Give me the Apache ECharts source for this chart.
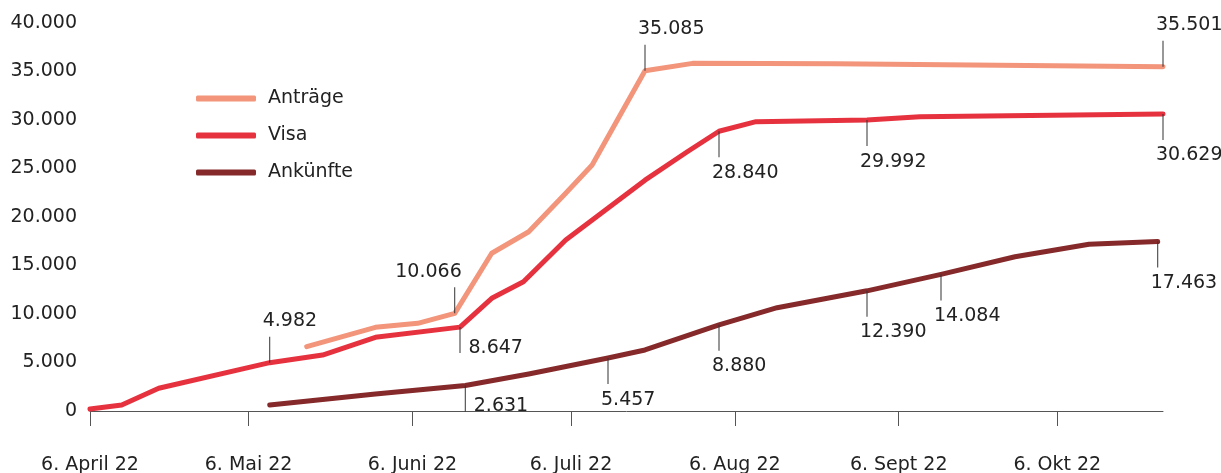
<!DOCTYPE html>
<html>
<head>
<meta charset="utf-8">
<script src="https://cdn.jsdelivr.net/npm/echarts@6/dist/echarts.min.js"></script>
<style>
html,body{margin:0;padding:0;background:#fff;}
#chart{width:1221px;height:473px;}
</style>
</head>
<body>
<div id="chart"></div>
<script>
// ---- data ----
const tickDates = ['2022-04-06','2022-05-06','2022-06-06','2022-07-06','2022-08-06','2022-09-06','2022-10-06'];
const tickLabels = ['6. April 22','6. Mai 22','6. Juni 22','6. Juli 22','6. Aug 22','6. Sept 22','6. Okt 22'];
const yTicks = [0,5000,10000,15000,20000,25000,30000,35000,40000];

const antragDates  = ['2022-05-17','2022-05-30','2022-06-07','2022-06-14','2022-06-21','2022-06-28','2022-07-05','2022-07-10','2022-07-20','2022-07-29','2022-08-25','2022-10-26'];
const antragValues = [6630, 8630, 9040, 10066, 16260, 18480, 22440, 25360, 35085, 35840, 35800, 35501];

const visaDates  = ['2022-04-06','2022-04-12','2022-04-19','2022-05-10','2022-05-20','2022-05-30','2022-06-15','2022-06-21','2022-06-27','2022-07-05','2022-07-20','2022-07-28','2022-08-03','2022-08-10','2022-08-31','2022-09-10','2022-10-26'];
const visaValues = [200, 620, 2340, 4982, 5770, 7600, 8647, 11620, 13330, 17630, 23800, 26730, 28840, 29830, 29992, 30340, 30629];

const ankunftDates  = ['2022-05-10','2022-05-30','2022-06-16','2022-06-28','2022-07-13','2022-07-20','2022-08-03','2022-08-14','2022-08-31','2022-09-14','2022-09-28','2022-10-12','2022-10-25'];
const ankunftValues = [620, 1750, 2631, 3810, 5457, 6290, 8880, 10650, 12390, 14084, 15900, 17190, 17463];

// annotated points: date + placement
const antragNotes  = [['2022-06-14','aboveRight'],['2022-07-20','above'],['2022-10-26','above']];
const visaNotes    = [['2022-05-10','above'],['2022-06-15','right'],['2022-08-03','below'],['2022-08-31','below'],['2022-10-26','below']];
const ankunftNotes = [['2022-06-16','right'],['2022-07-13','below'],['2022-08-03','below'],['2022-08-31','below'],['2022-09-14','below'],['2022-10-25','below']];

const axisMin = '2022-04-06';
const axisMax = '2022-10-26';

// ---- helpers ----
function t(s){ const p = s.split('-').map(Number); return Date.UTC(p[0], p[1]-1, p[2]); }
function fmt(v){ return String(Math.round(v)).replace(/\B(?=(\d{3})+(?!\d))/g, '.'); }
function pairs(dates, values){ return dates.map((d,i)=>[t(d), values[i]]); }

const FONT = 'DejaVu Sans';
const TXT = '#222';
const LEAD = 26;
const tickTimes = tickDates.map(t);

function notePoints(dates, values, notes){
  return notes.map(([d, place]) => {
    const v = values[dates.indexOf(d)];
    const down = (place === 'below' || place === 'right');
    const item = {
      coord: [t(d), v],
      value: v,
      symbol: 'rect',
      symbolSize: [1, LEAD],
      symbolOffset: [0, down ? LEAD/2 : -LEAD/2],
      itemStyle: { color: '#333' },
      label: { show: true, formatter: fmt(v), color: TXT, fontFamily: FONT, fontSize: 19 }
    };
    if (place === 'above') Object.assign(item.label, { position: 'top', align: 'left', offset: [-7, 0], distance: 6 });
    if (place === 'aboveRight') Object.assign(item.label, { position: 'top', align: 'right', offset: [7, 0], distance: 6 });
    if (place === 'below') Object.assign(item.label, { position: 'bottom', align: 'left', offset: [-7, 0], distance: 6 });
    if (place === 'right') Object.assign(item.label, { position: 'right', offset: [0, 8], distance: 8 });
    return item;
  });
}

function lineSeries(name, color, dates, values, notes){
  return {
    name, type: 'line', data: pairs(dates, values),
    showSymbol: false, symbol: 'none', smooth: false,
    lineStyle: { color, width: 5, cap: 'round', join: 'round' },
    itemStyle: { color },
    emphasis: { disabled: true },
    markPoint: { silent: true, animation: false, data: notePoints(dates, values, notes) },
    z: 2
  };
}

const chart = echarts.init(document.getElementById('chart'), null, { renderer: 'canvas' });
chart.setOption({
  animation: false,
  backgroundColor: '#fff',
  textStyle: { fontFamily: FONT },
  grid: { left: 90, right: 58, top: 23, bottom: 62, containLabel: false, outerBoundsMode: 'none' },
  legend: {
    orient: 'vertical', left: 191, top: 84,
    itemWidth: 60, itemHeight: 6, itemGap: 18, icon: 'roundRect',
    selectedMode: false,
    textStyle: { fontFamily: FONT, fontSize: 19, color: TXT, padding: [0,0,0,7] },
    data: ['Anträge','Visa','Ankünfte']
  },
  xAxis: {
    type: 'value', min: t(axisMin), max: t(axisMax), scale: true,
    axisLine: { show: true, lineStyle: { color: '#555', width: 1 } },
    axisTick: { show: true, length: 15, lineStyle: { color: '#555' }, customValues: tickTimes },
    axisLabel: {
      show: true, margin: 45, fontFamily: FONT, fontSize: 19, color: TXT,
      customValues: tickTimes,
      formatter: (val) => { const i = tickTimes.indexOf(val); return i >= 0 ? tickLabels[i] : ''; }
    },
    splitLine: { show: false }
  },
  yAxis: {
    type: 'value', min: yTicks[0], max: yTicks[yTicks.length-1], interval: yTicks[1]-yTicks[0],
    axisLine: { show: false }, axisTick: { show: false }, splitLine: { show: false },
    axisLabel: { margin: 13, fontFamily: FONT, fontSize: 19, color: TXT, formatter: (v) => fmt(v) }
  },
  series: [
    lineSeries('Anträge', '#f2957b', antragDates, antragValues, antragNotes),
    lineSeries('Visa', '#e6323f', visaDates, visaValues, visaNotes),
    lineSeries('Ankünfte', '#86292a', ankunftDates, ankunftValues, ankunftNotes)
  ]
});
</script>
</body>
</html>
